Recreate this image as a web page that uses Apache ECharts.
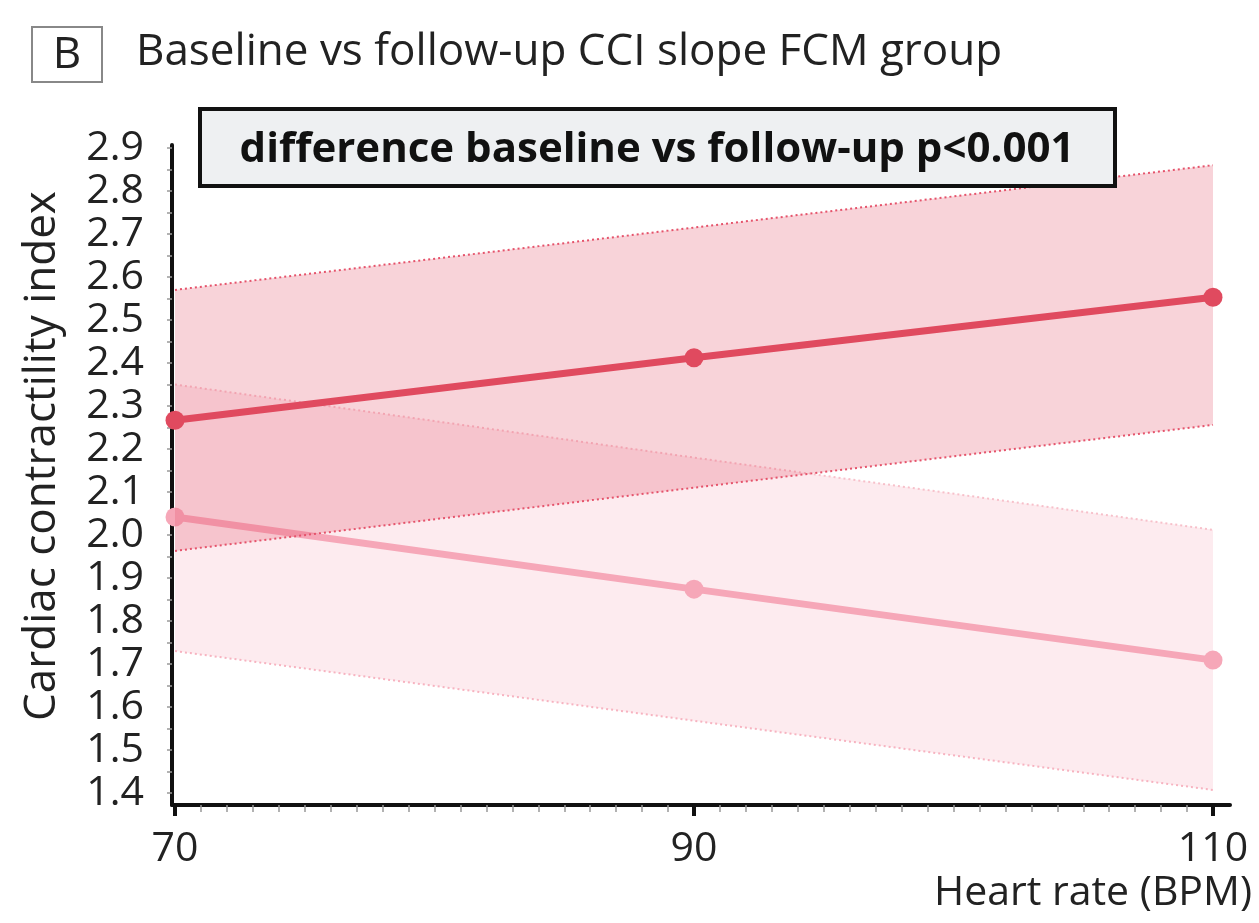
<!DOCTYPE html>
<html><head><meta charset="utf-8">
<script src="https://cdn.jsdelivr.net/npm/echarts@6/dist/echarts.min.js"></script>
<style>html,body{margin:0;padding:0;background:#fff}#c{width:1259px;height:923px}</style>
</head><body><div id="c"></div>
<script>
// ---- data ----
const heartRate = [70, 90, 110];
const followUpMean  = [2.267, 2.412, 2.553];
const followUpLower = [1.963, 2.110, 2.256];
const followUpUpper = [2.570, 2.715, 2.860];
const baselineMean  = [2.042, 1.874, 1.709];
const baselineLower = [1.730, 1.568, 1.407];
const baselineUpper = [2.350, 2.180, 2.012];
const yTickLabels = [1.4, 1.5, 1.6, 1.7, 1.8, 1.9, 2.0, 2.1, 2.2, 2.3, 2.4, 2.5, 2.6, 2.7, 2.8, 2.9];
const yMinorTicks = [1.4, 1.45, 1.5, 1.55, 1.6, 1.65, 1.7, 1.75, 1.8, 1.85, 1.9, 1.95, 2.0, 2.05, 2.1, 2.15, 2.2, 2.25, 2.3, 2.35, 2.4, 2.45, 2.5, 2.55, 2.6, 2.65, 2.7, 2.75, 2.8, 2.85, 2.9];
const xTickLabels = [70, 90, 110];
const xMinorTicks = [71,72,73,74,75,76,77,78,79,80,81,82,83,84,85,86,87,88,89,91,92,93,94,95,96,97,98,99,100,101,102,103,104,105,106,107,108,109];
const titleText = 'Baseline vs follow-up CCI slope FCM group';
const panelLetter = 'B';
const annotationText = 'difference baseline vs follow-up p<0.001';
const yName = 'Cardiac contractility index';
const xName = 'Heart rate (BPM)';

const FONT = '"Open Sans", "Noto Sans", sans-serif';
const pts = (ys) => heartRate.map((x, i) => [x, ys[i]]);

function bandSeries(lower, upper, fill, z) {
  return {
    type: 'custom', z: z, silent: true,
    data: heartRate.map((x, i) => [x, lower[i], upper[i]]),
    encode: { x: 0, y: [1, 2] },
    renderItem: function (params, api) {
      if (params.dataIndex !== 0) return null;
      const poly = [];
      for (let i = 0; i < heartRate.length; i++) poly.push(api.coord([heartRate[i], lower[i]]));
      for (let i = heartRate.length - 1; i >= 0; i--) poly.push(api.coord([heartRate[i], upper[i]]));
      return { type: 'polygon', shape: { points: poly }, style: { fill: fill, stroke: null } };
    }
  };
}
function edgeSeries(ys, color, z) {
  return { type: 'line', z: z, data: pts(ys), symbol: 'none', silent: true,
    lineStyle: { color: color, width: 2, type: [2, 3] } };
}
function meanSeries(ys, color, z) {
  return { type: 'line', z: z, data: pts(ys), symbol: 'circle', symbolSize: 19, silent: true,
    itemStyle: { color: color }, lineStyle: { color: color, width: 7 } };
}

const chart = echarts.init(document.getElementById('c'), null, { renderer: 'canvas' });
chart.setOption({
  animation: false,
  backgroundColor: '#ffffff',
  grid: { left: 172, right: 29, top: 145, bottom: 118, containLabel: false },
  xAxis: [
    { type: 'value', min: 69.884, max: 110.655, position: 'bottom',
      axisLine: { show: true, lineStyle: { color: '#111', width: 4 } },
      axisTick: { show: true, customValues: xTickLabels, length: 11, lineStyle: { color: '#111', width: 4 } },
      axisLabel: { customValues: xTickLabels, color: '#222', fontFamily: FONT, fontSize: 41, margin: 24 },
      splitLine: { show: false } },
    { type: 'value', min: 69.884, max: 110.655, position: 'bottom',
      axisLine: { show: false },
      axisTick: { show: true, customValues: xMinorTicks, length: 7, lineStyle: { color: '#999', width: 1.5 } },
      axisLabel: { show: false }, splitLine: { show: false } }
  ],
  yAxis: {
    type: 'value', min: 1.372, max: 2.907,
    axisLine: { show: true, lineStyle: { color: '#111', width: 4 } },
    axisTick: { show: true, customValues: yMinorTicks, length: 5, lineStyle: { color: '#999', width: 1.5 } },
    axisLabel: { customValues: yTickLabels, color: '#222', fontFamily: FONT, fontSize: 41, margin: 28,
      formatter: (v) => v.toFixed(1) },
    splitLine: { show: false }
  },
  series: [
    bandSeries(baselineLower, baselineUpper, 'rgba(240,120,145,0.15)', 1),
    edgeSeries(baselineLower, '#f7b3c0', 2),
    edgeSeries(baselineUpper, '#f7c0ca', 2),
    meanSeries(baselineMean, '#f6a7b8', 3),
    bandSeries(followUpLower, followUpUpper, 'rgba(226,80,105,0.25)', 4),
    edgeSeries(followUpLower, '#e5536b', 5),
    edgeSeries(followUpUpper, '#e5536b', 5),
    meanSeries(followUpMean, '#e04a5f', 6)
  ],
  graphic: [
    { type: 'rect', shape: { x: 32, y: 27, width: 70, height: 55 }, style: { fill: '#fff', stroke: '#888', lineWidth: 2 }, z: 10 },
    { type: 'text', x: 67, y: 55, style: { text: panelLetter, font: '44px ' + FONT, fill: '#222', textAlign: 'center', textVerticalAlign: 'middle' }, z: 11 },
    { type: 'text', x: 136, y: 52, style: { text: titleText, font: '44px ' + FONT, fill: '#222', textAlign: 'left', textVerticalAlign: 'middle' }, z: 11 },
    { type: 'rect', shape: { x: 200, y: 109, width: 915, height: 77 }, style: { fill: '#eef0f2', stroke: '#111', lineWidth: 4 }, z: 10 },
    { type: 'text', x: 657, y: 150, style: { text: annotationText, font: 'bold 42px ' + FONT, fill: '#111', textAlign: 'center', textVerticalAlign: 'middle' }, z: 11 },
    { type: 'text', x: 42, y: 456, rotation: Math.PI / 2, style: { text: yName, font: '44px ' + FONT, fill: '#222', textAlign: 'center', textVerticalAlign: 'middle' }, z: 11 },
    { type: 'text', x: 1252, y: 893, style: { text: xName, font: '41px ' + FONT, fill: '#222', textAlign: 'right', textVerticalAlign: 'middle' }, z: 11 }
  ]
});
</script></body></html>
